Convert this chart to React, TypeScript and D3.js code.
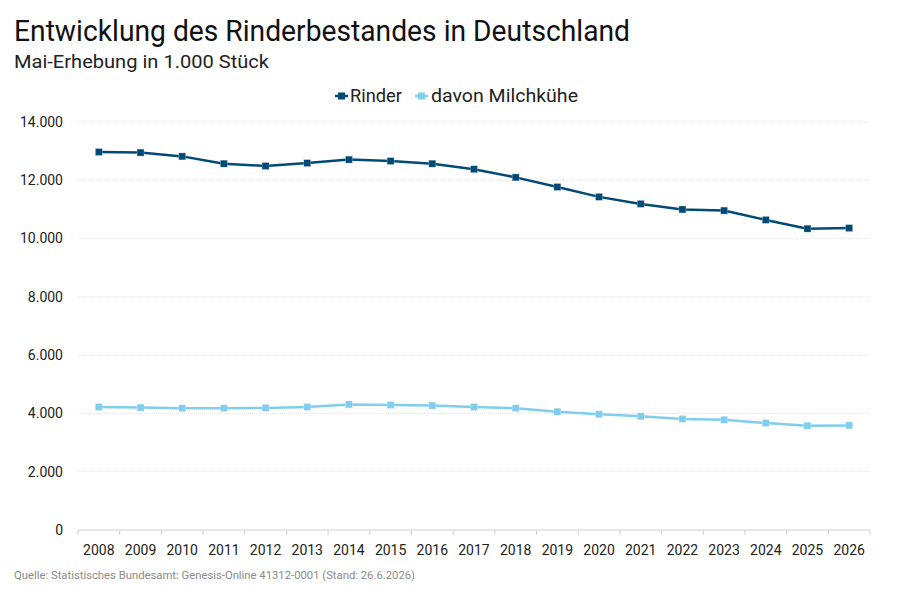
import * as d3 from "d3";

const years = ["2008","2009","2010","2011","2012","2013","2014","2015","2016","2017","2018","2019","2020","2021","2022","2023","2024","2025","2026"];
const rinder = [12970,12950,12820,12570,12490,12590,12710,12660,12570,12380,12100,11770,11430,11190,11000,10960,10640,10340,10360];
const milchkuehe = [4220,4200,4180,4180,4190,4220,4310,4290,4270,4220,4180,4060,3970,3900,3810,3780,3670,3580,3590];
const yTicks = [0,2000,4000,6000,8000,10000,12000,14000];

const W = 900, H = 589;
const margin = { left: 78, right: 30, top: 122, bottom: 59 };
const FONT = "Roboto, 'Noto Sans', sans-serif";

const series = [
  { name: "Rinder", values: rinder, color: "#004b76" },
  { name: "davon Milchkühe", values: milchkuehe, color: "#80cdec" },
];

const fmt = (v: number) => d3.format(",")(v).replace(/,/g, ".");

export default function App() {
  const x = d3.scaleBand().domain(years).range([margin.left, W - margin.right]);
  const y = d3.scaleLinear().domain([0, 14000]).range([H - margin.bottom, margin.top]);
  const cx = (yr: string) => (x(yr) ?? 0) + x.bandwidth() / 2;
  const line = d3.line<number>().x((_, i) => cx(years[i])).y((d) => y(d));
  const y0 = y(0);

  return (
    <svg width={W} height={H} style={{ position: "absolute", left: 0, top: 0, fontFamily: FONT }}>
      <rect width={W} height={H} fill="#fff" />
      <text x={14} y={41} fontSize={29} fill="#111" textLength={616} lengthAdjust="spacingAndGlyphs">
        Entwicklung des Rinderbestandes in Deutschland
      </text>
      <text x={14} y={68} fontSize={19} fill="#222" textLength={255} lengthAdjust="spacingAndGlyphs">
        Mai-Erhebung in 1.000 Stück
      </text>

      {/* legend */}
      <g fontSize={17.5} fill="#222">
        <line x1={335} x2={348} y1={96} y2={96} stroke={series[0].color} strokeWidth={2.5} />
        <rect x={338} y={92.5} width={7} height={7} fill={series[0].color} />
        <text x={350} y={102} textLength={52} lengthAdjust="spacingAndGlyphs">Rinder</text>
        <line x1={415} x2={428} y1={96} y2={96} stroke={series[1].color} strokeWidth={2.5} />
        <rect x={418} y={92.5} width={7} height={7} fill={series[1].color} />
        <text x={431} y={102} textLength={147} lengthAdjust="spacingAndGlyphs">davon Milchkühe</text>
      </g>

      {/* grid + y labels */}
      {yTicks.map((t) => (
        <g key={t}>
          {t > 0 && (
            <line x1={margin.left} x2={W - margin.right} y1={y(t)} y2={y(t)} stroke="#e2e2e2" strokeDasharray="1,1" />
          )}
          <text x={63} y={y(t)} dy="0.35em" textAnchor="end" fontSize={14} fill="#222">
            {fmt(t)}
          </text>
        </g>
      ))}

      {/* x axis */}
      <line x1={margin.left} x2={W - margin.right} y1={y0} y2={y0} stroke="#d0d0d0" />
      {years.map((yr) => (
        <line key={"t" + yr} x1={x(yr)} x2={x(yr)} y1={y0} y2={y0 + 5} stroke="#d0d0d0" />
      ))}
      <line x1={W - margin.right} x2={W - margin.right} y1={y0} y2={y0 + 5} stroke="#d0d0d0" />
      {years.map((yr) => (
        <text key={yr} x={cx(yr)} y={555} textAnchor="middle" fontSize={14} fill="#222">
          {yr}
        </text>
      ))}

      {/* series */}
      {series.map((s) => (
        <g key={s.name}>
          <path d={line(s.values) ?? ""} fill="none" stroke={s.color} strokeWidth={2.5} />
          {s.values.map((v, i) => (
            <rect
              key={i}
              x={cx(years[i]) - 3.5}
              y={y(v) - 3.5}
              width={7}
              height={7}
              fill={s.color}
              stroke="#fff"
              strokeOpacity={0.5}
              strokeWidth={0.5}
            />
          ))}
        </g>
      ))}

      <text x={14} y={579} fontSize={11.5} fill="#8a8a8a" textLength={401} lengthAdjust="spacingAndGlyphs">
        Quelle: Statistisches Bundesamt: Genesis-Online 41312-0001 (Stand: 26.6.2026)
      </text>
    </svg>
  );
}
